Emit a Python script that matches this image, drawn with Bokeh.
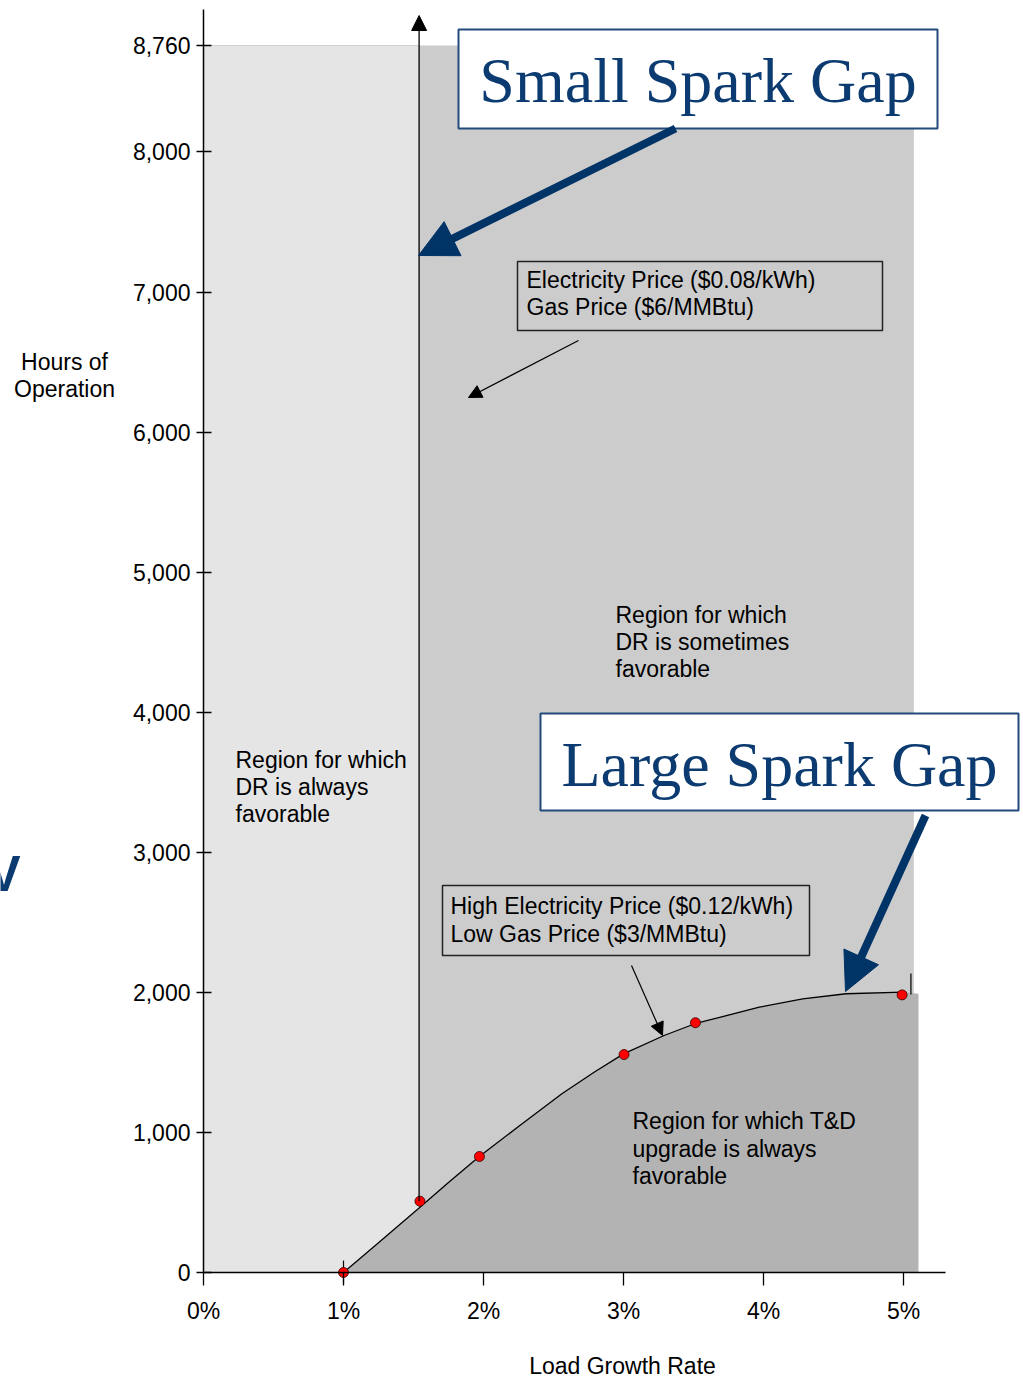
from bokeh.plotting import figure
from bokeh.models import Range1d, FixedTicker, NumeralTickFormatter, Arrow, NormalHead, Label
from bokeh.core.properties import value
from bokeh.embed import file_html
from bokeh.resources import INLINE

# ---------------- data ----------------
x_ticks = [0, 1, 2, 3, 4, 5]
x_tick_labels = ["0%", "1%", "2%", "3%", "4%", "5%"]
y_ticks = [0, 1000, 2000, 3000, 4000, 5000, 6000, 7000, 8000, 8760]

max_hours = 8760
dr_always_edge = 1.54      # load growth (%) where "DR always favorable" ends
dr_some_edge = 5.074       # right edge of "DR sometimes favorable" region
tnd_edge = 5.107           # right edge of the T&D region

curve_growth = [1.0, 1.25, 1.54, 1.75, 1.97, 2.25, 2.56, 2.79, 3.0, 3.29, 3.51, 3.97, 4.28, 4.59, 5.0]
curve_hours = [0, 213, 460, 642, 828, 1042, 1276, 1430, 1561, 1692, 1776, 1894, 1954, 1990, 2001]

point_growth = [1.0, 1.546, 1.971, 3.004, 3.514, 4.99]
point_hours = [0, 509, 828, 1556, 1783, 1982]

# ---------------- helpers (page pixel -> data, for annotation placement) ----------------
PX_PER_X = 140.0
PX_PER_H = 0.14007
W, H = 1020, 1380


def X(px):
    return (px - 203) / PX_PER_X


def Y(py):
    return (1272 - py) / PX_PER_H


def B(py, fs):
    # baseline correction for text drawn with "alphabetic" baseline
    return Y(py - 0.34 * fs)


SANS = value("Liberation Sans")
SERIF = value("Liberation Serif")
NAVY_TXT = "#0b3b70"
NAVY_ARR = "#003366"
NAVY_BOX = "#224a7c"

p = figure(width=W, height=H,
           x_range=Range1d(X(0), X(W)), y_range=Range1d(Y(H), Y(0)),
           output_backend="svg", toolbar_location=None,
           min_border_left=0, min_border_right=0, min_border_top=0, min_border_bottom=0)
p.grid.visible = False
p.outline_line_color = None
p.background_fill_color = "white"
p.border_fill_color = "white"

# axes (fixed at 0 so the frame can cover the whole canvas)
xa = p.xaxis[0]
xa.fixed_location = 0
xa.ticker = FixedTicker(ticks=x_ticks)
xa.major_label_overrides = {t: lab for t, lab in zip(x_ticks, x_tick_labels)}
xa.bounds = (0, 5.3)
xa.major_tick_in = 0
xa.major_tick_out = 13
xa.minor_tick_line_color = None
xa.major_label_standoff = 12
xa.major_label_text_font = "Liberation Sans"
xa.major_label_text_font_size = "23px"
xa.major_label_text_color = "black"
xa.axis_line_width = 1.5
xa.major_tick_line_width = 1.3

ya = p.yaxis[0]
ya.fixed_location = 0
ya.ticker = FixedTicker(ticks=y_ticks)
ya.formatter = NumeralTickFormatter(format="0,0")
ya.bounds = (0, 9020)
ya.major_tick_in = 8
ya.major_tick_out = 7
ya.minor_tick_line_color = None
ya.major_label_standoff = 6
ya.major_label_text_font = "Liberation Sans"
ya.major_label_text_font_size = "23px"
ya.major_label_text_color = "black"
ya.axis_line_width = 1.5
ya.major_tick_line_width = 1.3

# regions
p.quad(left=[0], right=[dr_always_edge], bottom=[0], top=[max_hours],
       fill_color="#e5e5e5", line_color="#d2d2d2", line_width=1, level="underlay")
p.quad(left=[dr_always_edge], right=[dr_some_edge], bottom=[0], top=[max_hours],
       fill_color="#cccccc", line_color=None, level="underlay")
area_x = curve_growth + [tnd_edge, tnd_edge]
area_top = curve_hours + [1990, 1990]
p.varea(x=area_x, y1=[0] * len(area_x), y2=area_top, fill_color="#b3b3b3", level="underlay")

# curve
p.line(curve_growth, curve_hours, line_color="black", line_width=1.3)

# small marks
p.segment(x0=[1.0, 5.053], y0=[-80, 1985], x1=[1.0, 5.053], y1=[85, 2135],
          line_color="black", line_width=1.2)

# vertical arrow from the DR boundary point
p.add_layout(Arrow(end=NormalHead(size=15, fill_color="black", line_color="black"),
                   x_start=dr_always_edge, y_start=point_hours[1],
                   x_end=dr_always_edge, y_end=Y(15),
                   line_color="black", line_width=1.3))

# red points
p.scatter(point_growth, point_hours, size=10, fill_color="#ff0000", line_color="#300000", line_width=0.8)

# grey-framed info boxes
p.quad(left=[X(517), X(442)], right=[X(882), X(809)], top=[Y(261), Y(885)], bottom=[Y(330), Y(955)],
       fill_color=None, line_color="#222222", line_width=1.5)

# Spark gap boxes
p.quad(left=[X(458), X(540)], right=[X(937), X(1018)], top=[Y(29), Y(713)], bottom=[Y(128), Y(810)],
       fill_color="white", line_color=NAVY_BOX, line_width=2)

p.text(x=[X(697.5), X(779)], y=[B(102, 64), B(786, 64)], text=["Small Spark Gap", "Large Spark Gap"],
       text_font=SERIF, text_font_size="64px", text_color=NAVY_TXT,
       text_align="center", text_baseline="alphabetic")

# sans texts (one entry per line)
txt_x = [X(235)] * 3 + [X(615)] * 3 + [X(632)] * 3 + [X(526)] * 2 + [X(450)] * 2
txt_base = [767, 794, 821,
            622, 649, 676,
            1128, 1156, 1183,
            287, 314,
            913, 941]
txt = ["Region for which", "DR is always", "favorable",
       "Region for which", "DR is sometimes", "favorable",
       "Region for which T&D", "upgrade is always", "favorable",
       "Electricity Price ($0.08/kWh)", "Gas Price ($6/MMBtu)",
       "High Electricity Price ($0.12/kWh)", "Low Gas Price ($3/MMBtu)"]
p.text(x=txt_x, y=[B(b, 23) for b in txt_base], text=txt, text_font=SANS, text_font_size="23px",
       text_color="black", text_align="left", text_baseline="alphabetic")

# small black arrows
for (x0, y0, x1, y1) in [(578, 340, 468, 397), (631, 965, 662, 1035)]:
    p.add_layout(Arrow(end=NormalHead(size=13, fill_color="black", line_color="black"),
                       x_start=X(x0), y_start=Y(y0), x_end=X(x1), y_end=Y(y1),
                       line_color="black", line_width=1.2))

# big navy arrows: shaft + head
for (tx, ty, hx, hy) in [(675, 128, 418, 255), (925, 815, 845, 991)]:
    dx, dy = tx - hx, ty - hy
    ln = (dx * dx + dy * dy) ** 0.5
    sx, sy = hx + dx * 28 / ln, hy + dy * 28 / ln
    p.segment(x0=[X(tx)], y0=[Y(ty)], x1=[X(sx)], y1=[Y(sy)], line_color=NAVY_ARR, line_width=8)
    p.add_layout(Arrow(end=NormalHead(size=38, fill_color=NAVY_ARR, line_color=NAVY_ARR),
                       x_start=X(sx), y_start=Y(sy), x_end=X(hx), y_end=Y(hy),
                       line_alpha=0, line_width=1))

# axis titles / outside texts
for t, yy in [("Hours of", 369), ("Operation", 396)]:
    p.add_layout(Label(x=X(64), y=B(yy, 23), text=t, text_font="Liberation Sans", text_font_size="23px",
                       text_align="center", text_baseline="alphabetic", text_color="black"))
p.add_layout(Label(x=X(622), y=B(1373, 23), text="Load Growth Rate", text_font="Liberation Sans",
                   text_font_size="23px", text_align="center", text_baseline="alphabetic",
                   text_color="black"))
p.add_layout(Label(x=X(20), y=B(890, 50), text="V", text_font="Liberation Sans", text_font_style="bold",
                   text_font_size="50px", text_align="right", text_baseline="alphabetic",
                   text_color=NAVY_TXT))

open("out.html", "w").write(file_html(p, INLINE))
